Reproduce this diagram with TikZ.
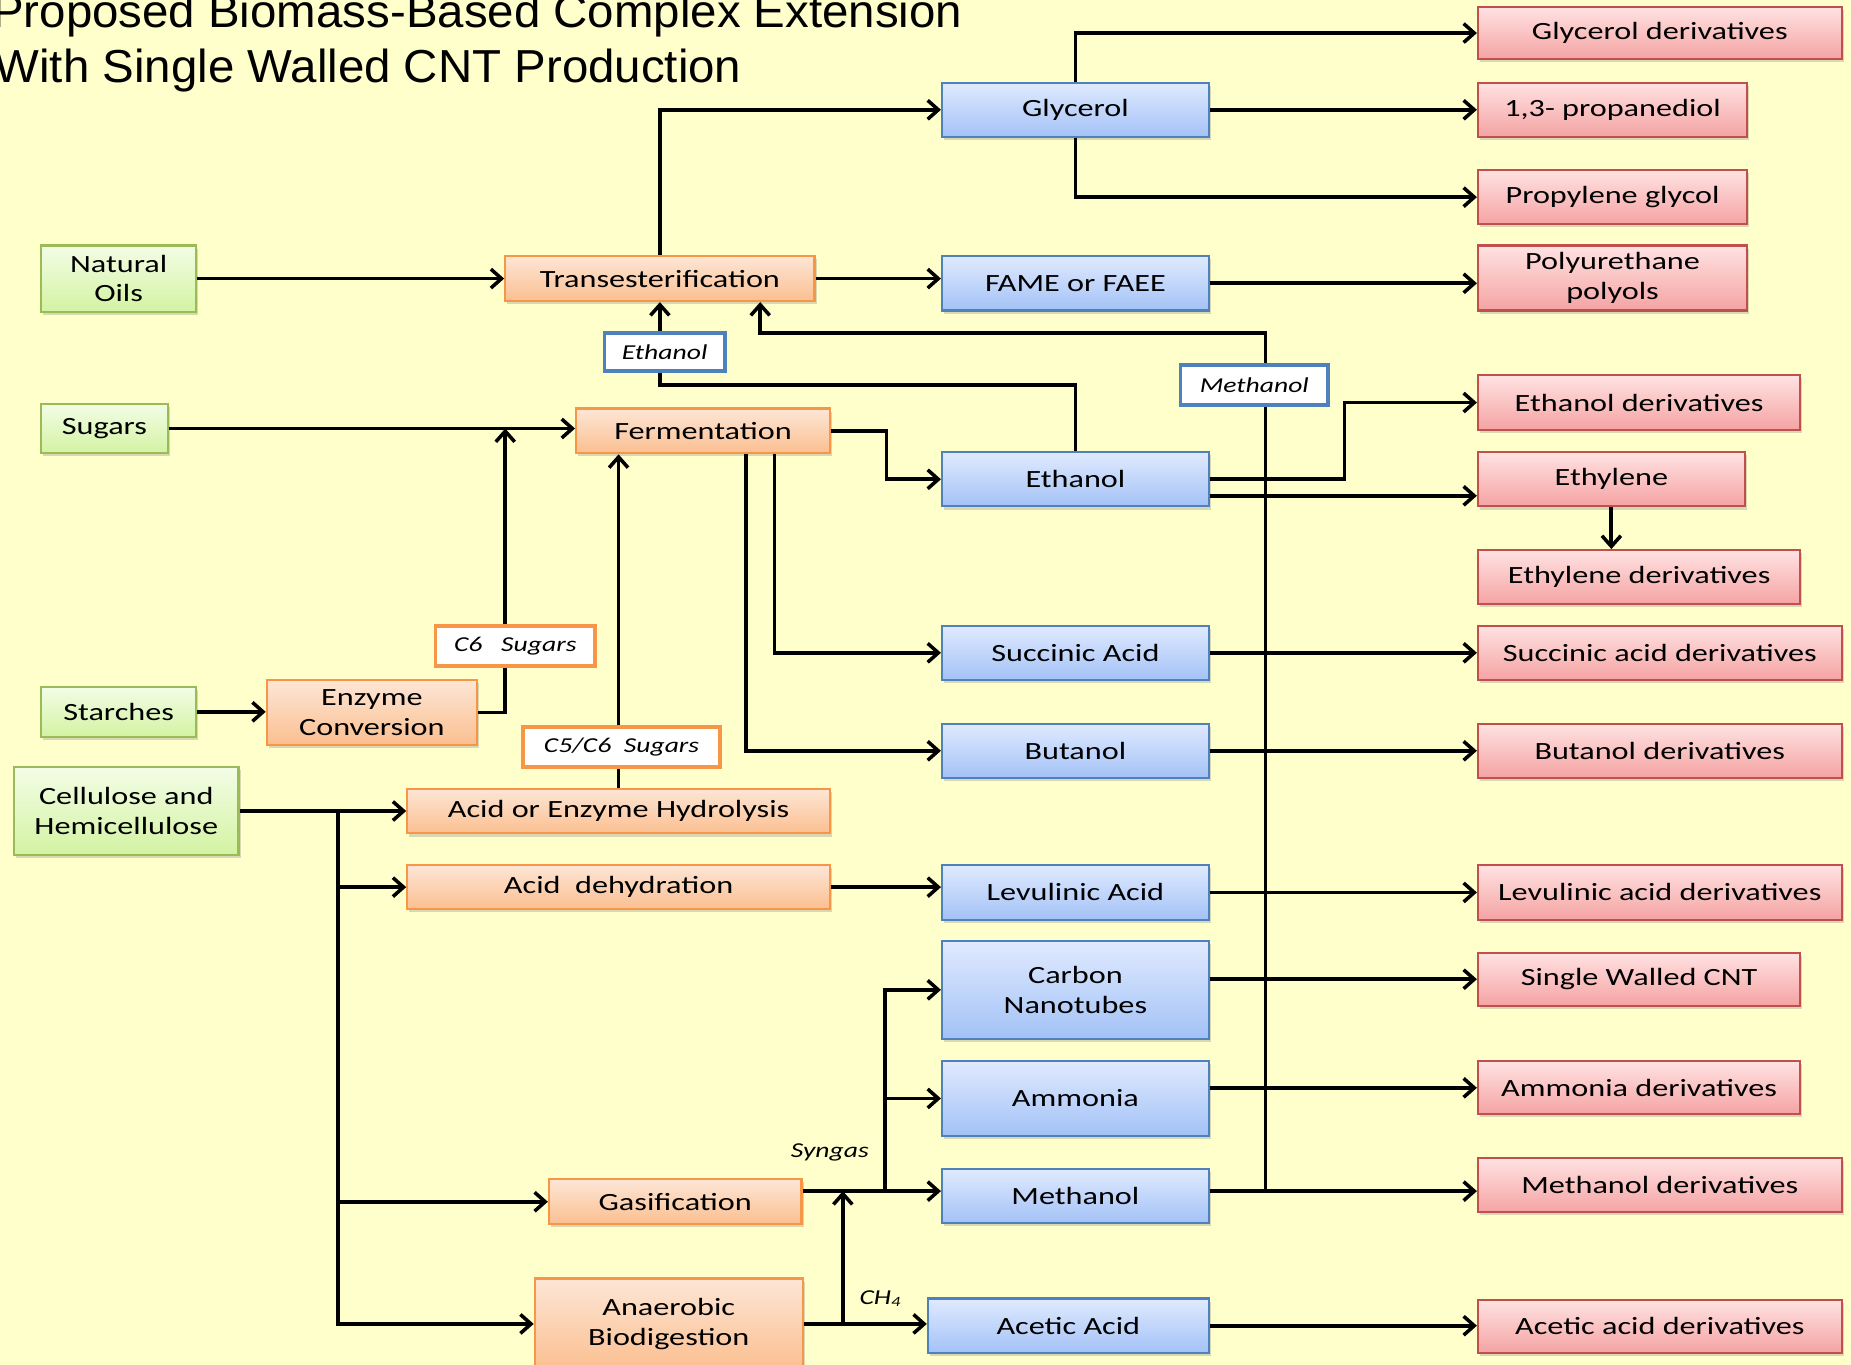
\documentclass[tikz,border=0pt]{standalone}
\usepackage{fontspec}
\setmainfont{Carlito}[FakeStretch=1.3]
\newfontfamily\titlefont{Liberation Sans}[FakeStretch=1.025]
\usetikzlibrary{arrows.meta,shadows}
\definecolor{bgc}{HTML}{FFFFCC}
\definecolor{grnB}{HTML}{9BBB59}\definecolor{grnT}{HTML}{F3FDE6}\definecolor{grnD}{HTML}{D3F3A2}
\definecolor{orgB}{HTML}{F79646}\definecolor{orgT}{HTML}{FDE6D6}\definecolor{orgD}{HTML}{FBBF90}
\definecolor{bluB}{HTML}{4F81BD}\definecolor{bluT}{HTML}{E0EAFF}\definecolor{bluD}{HTML}{A3C2F6}
\definecolor{redB}{HTML}{C0504D}\definecolor{redT}{HTML}{FFE2E2}\definecolor{redD}{HTML}{F5A3A3}
\newcommand\mybox[7]{\node[#2, minimum width={(#5-#3)*0.5pt}, minimum height={(#6-#4)*0.5pt}] (#1) at ({(#3+#5)/2},{(#4+#6)/2}) {#7};}
\tikzset{
  box/.style={draw, line width=0.9pt, inner sep=0pt, align=center,
    font=\fontsize{10.5}{12.5}\selectfont,
    drop shadow={shadow xshift=0.9pt, shadow yshift=-1.3pt, opacity=0.25, fill=black!60}},
  grn/.style={box, draw=grnB, top color=grnT, bottom color=grnD},
  org/.style={box, draw=orgB, top color=orgT, bottom color=orgD},
  blu/.style={box, draw=bluB, top color=bluT, bottom color=bluD},
  red/.style={box, draw=redB, top color=redT, bottom color=redD},
  lbl/.style={draw, fill=white, line width=1.6pt, inner sep=0pt, font=\fontsize{9}{11}\selectfont\itshape},
  lblB/.style={lbl, draw=bluB},
  lblO/.style={lbl, draw=orgB},
  plain/.style={inner sep=0pt, font=\fontsize{9}{11}\selectfont\itshape},
  ttl/.style={inner sep=0pt, anchor=base west, font=\titlefont\fontsize{19.6}{22}\selectfont},
  ln/.style={line width=1.6pt},
  arr/.style={line width=1.6pt, -{Straight Barb[length=4.5pt,width=8pt,line width=1.5pt]}},
}
\begin{document}
\begin{tikzpicture}[x=0.5pt,y=-0.5pt]
\useasboundingbox (0,0) rectangle (1568,1156);
\clip (0,0) rectangle (1568,1156);
\fill[bgc] (0,0) rectangle (1568,1156);

\node[ttl] (t1) at (-7,23) {Proposed Biomass-Based Complex Extension};
\node[ttl] (t2) at (-5,70) {With Single Walled CNT Production};

% sources
\mybox{NO}{grn}{35}{208}{166}{264}{Natural\\Oils}
\mybox{SU}{grn}{35}{342}{142}{384}{Sugars}
\mybox{ST}{grn}{35}{582}{166}{624}{Starches}
\mybox{CE}{grn}{12}{650}{202}{724}{Cellulose and\\Hemicellulose}
% processes
\mybox{TR}{org}{428}{217}{690}{255}{Transesterification}
\mybox{FE}{org}{488}{346}{703}{384}{Fermentation}
\mybox{EC}{org}{226}{576}{404}{631}{Enzyme\\Conversion}
\mybox{AH}{org}{345}{668}{703}{706}{Acid or Enzyme Hydrolysis}
\mybox{AD}{org}{345}{733}{703}{770}{Acid\ \ dehydration}
\mybox{GA}{org}{465}{999}{679}{1037}{Gasification}
\mybox{AB}{org}{453}{1083}{680}{1160}{Anaerobic\\Biodigestion}
% intermediates
\mybox{Gly}{blu}{798}{70}{1024}{116}{Glycerol}
\mybox{FAME}{blu}{798}{217}{1024}{263}{FAME or FAEE}
\mybox{EtOH}{blu}{798}{383}{1024}{429}{Ethanol}
\mybox{Succ}{blu}{798}{530}{1024}{576}{Succinic Acid}
\mybox{But}{blu}{798}{613}{1024}{659}{Butanol}
\mybox{Lev}{blu}{798}{733}{1024}{779}{Levulinic Acid}
\mybox{CNT}{blu}{798}{797}{1024}{880}{Carbon\\Nanotubes}
\mybox{Amm}{blu}{798}{899}{1024}{962}{Ammonia}
\mybox{MeOH}{blu}{798}{990}{1024}{1036}{Methanol}
\mybox{Acet}{blu}{786}{1100}{1024}{1146}{Acetic Acid}
% products
\mybox{dGly}{red}{1252}{6}{1560}{50}{Glycerol derivatives}
\mybox{dProp}{red}{1252}{70}{1480}{116}{1,3- propanediol}
\mybox{dPG}{red}{1252}{144}{1480}{190}{Propylene glycol}
\mybox{dPU}{red}{1252}{208}{1480}{263}{Polyurethane\\polyols}
\mybox{dEt}{red}{1252}{318}{1525}{364}{Ethanol derivatives}
\mybox{dEth}{red}{1252}{383}{1478}{429}{Ethylene}
\mybox{dEthD}{red}{1252}{466}{1525}{512}{Ethylene derivatives}
\mybox{dSucc}{red}{1252}{530}{1560}{576}{Succinic acid derivatives}
\mybox{dBut}{red}{1252}{613}{1560}{659}{Butanol derivatives}
\mybox{dLev}{red}{1252}{733}{1560}{779}{Levulinic acid derivatives}
\mybox{dSW}{red}{1252}{807}{1525}{852}{Single Walled CNT}
\mybox{dAmm}{red}{1252}{899}{1525}{944}{Ammonia derivatives}
\mybox{dMe}{red}{1252}{981}{1560}{1027}{Methanol derivatives}
\mybox{dAc}{red}{1252}{1101}{1560}{1146}{Acetic acid derivatives}
% labels
\mybox{lEt}{lblB}{512}{282}{614}{314}{Ethanol}
\mybox{lMe}{lblB}{1000}{309}{1125}{343}{Methanol}
\mybox{lC6}{lblO}{369}{530}{504}{564}{C6\ \ \ Sugars}
\mybox{lC56}{lblO}{443}{616}{610}{650}{C5/C6\ \ Sugars}
\node[plain] (sy) at (703,976) {Syngas};
\node[plain] (ch) at (746,1100) {CH\textsubscript{4}};

% connectors
\draw[arr] (NO.east) -- (NO.east -| TR.west);
\draw[arr] (TR.north) |- (Gly.west);
\draw[arr] (TR.east) -- (TR.east -| FAME.west);
\draw[arr] (Gly.north) |- (dGly.west);
\draw[arr] (Gly.east) -- (dProp.west);
\draw[arr] (Gly.south) |- (dPG.west);
\draw[arr] (FAME.east) -- (FAME.east -| dPU.west);
% ethanol recycle
\draw[ln] (EtOH.north) -- ++(0,-56) -| (TR.south |- lEt.south);
\draw[arr] (TR.south |- lEt.north) -- (TR.south);
% methanol recycle
\coordinate (gl) at ([yshift=4.5pt]GA.east);
\draw[ln] (gl -| 1072,0) -- (lMe.south -| 1072,0);
\draw[arr] (lMe.north -| 1072,0) -- ++(0,-25) -| ([xshift=42.5pt]TR.south);
% sugars
\draw[arr] (SU.east) -- (SU.east -| FE.west);
\draw[ln] (EC.east) -| (lC6.south -| 428,0);
\draw[arr] (lC6.north -| 428,0) -- (SU.east -| 428,0);
\draw[ln] (AH.north) -- (AH.north |- lC56.south);
\draw[arr] (AH.north |- lC56.north) -- (AH.north |- FE.south);
\draw[arr] (FE.east) -- ++(47,0) |- (EtOH.west);
\draw[arr] (FE.south -| 656,0) |- (Succ.west);
\draw[arr] (FE.south -| 632,0) |- (But.west);
\draw[arr] (EtOH.east) -- ++(114,0) |- (dEt.west);
\draw[arr] ([yshift=-7pt]EtOH.east) -- ([yshift=-7pt]EtOH.east -| dEth.west);
\draw[arr] (dEth.south) -- (dEth.south |- dEthD.north);
\draw[arr] (Succ.east) -- (dSucc.west);
\draw[arr] (But.east) -- (dBut.west);
\draw[arr] (ST.east) -- (ST.east -| EC.west);
% cellulose
\draw[arr] (CE.east) -- (CE.east -| AH.west);
\draw[arr] (CE.east -| 286,0) |- (AD.west);
\draw[arr] (CE.east -| 286,0) |- (GA.west);
\draw[arr] (CE.east -| 286,0) |- (AB.west);
\draw[arr] (AD.east) -- (AD.east -| Lev.west);
\draw[arr] (Lev.east) -- (Lev.east -| dLev.west);
% syngas
\draw[arr] (gl) -- (gl -| MeOH.west);
\draw[arr] (gl -| 750,0) |- (CNT.west);
\draw[arr] (gl -| 750,0) |- (Amm.west);
\draw[arr] (AB.east) -- (AB.east -| Acet.west);
\draw[arr] (AB.east -| 714,0) -- (gl -| 714,0);
% products
\draw[arr] (dSW.west -| CNT.east) -- (dSW.west);
\draw[arr] (dAmm.west -| Amm.east) -- (dAmm.west);
\draw[arr] (gl -| MeOH.east) -- (gl -| dMe.west);
\draw[arr] (Acet.east) -- (Acet.east -| dAc.west);
\end{tikzpicture}
\end{document}
